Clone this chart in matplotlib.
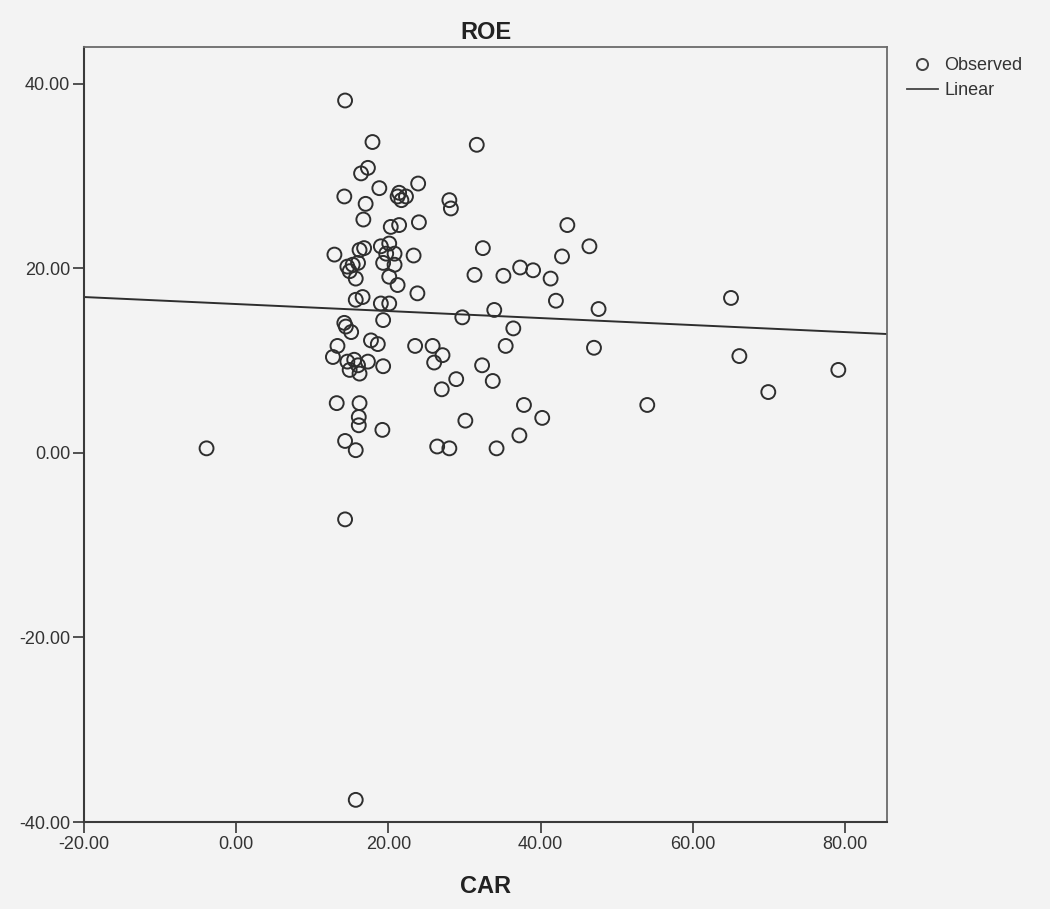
import matplotlib.pyplot as plt
from matplotlib.lines import Line2D
import numpy as np

plt.rcParams['font.family'] = ['Liberation Sans', 'DejaVu Sans']

# Scatter values (CAR on x, ROE on y)
car = [14.3, 17.9, 31.6, 16.4, 17.3, 18.8, 23.9, 14.2, 21.2, 21.7,
       22.3, 21.4, 28.0, 28.2, 17.0, 16.7, 20.3, 21.4, 24.0, 12.9,
       16.2, 16.8, 19.0, 20.1, 19.7, 20.8, 19.3, 20.8, 23.3, 32.4,
       31.3, 35.1, 14.6, 15.3, 16.0, 14.9, 15.7, 20.1, 21.2, 23.8,
       15.7, 16.6, 19.0, 20.1, 19.3, 29.7, 33.9, 14.2, 14.4, 15.1,
       17.7, 18.6, 23.5, 25.8, 27.1, 26.0, 13.3, 12.7, 14.6, 15.5,
       16.0, 14.9, 16.2, 17.3, 19.3, 32.3, 33.7, 28.9, 27.0, 13.2,
       16.2, 16.1, 16.1, 19.2, 30.1, 14.3, 15.7, 26.4, 28.0, 34.2,
       -3.9, 43.5, 46.4, 42.8, 37.3, 39.0, 41.3, 42.0, 65.0, 47.6,
       36.4, 35.4, 47.0, 66.1, 79.1, 69.9, 37.8, 54.0, 40.2, 37.2,
       14.3, 15.7]
roe = [38.2, 33.7, 33.4, 30.3, 30.9, 28.7, 29.2, 27.8, 27.8, 27.4,
       27.8, 28.2, 27.4, 26.5, 27.0, 25.3, 24.5, 24.7, 25.0, 21.5,
       22.0, 22.2, 22.4, 22.7, 21.6, 21.6, 20.6, 20.4, 21.4, 22.2,
       19.3, 19.2, 20.2, 20.4, 20.6, 19.7, 18.9, 19.1, 18.2, 17.3,
       16.6, 16.9, 16.2, 16.2, 14.4, 14.7, 15.5, 14.1, 13.7, 13.1,
       12.2, 11.8, 11.6, 11.6, 10.6, 9.8, 11.6, 10.4, 9.9, 10.1,
       9.5, 9.0, 8.6, 9.9, 9.4, 9.5, 7.8, 8.0, 6.9, 5.4,
       5.4, 3.9, 3.0, 2.5, 3.5, 1.3, 0.3, 0.7, 0.5, 0.5,
       0.5, 24.7, 22.4, 21.3, 20.1, 19.8, 18.9, 16.5, 16.8, 15.6,
       13.5, 11.6, 11.4, 10.5, 9.0, 6.6, 5.2, 5.2, 3.8, 1.9,
       -7.2, -37.6]

# Linear fit line as shown
fit_intercept = 16.14
fit_slope = -0.038

x_ticks = [-20, 0, 20, 40, 60, 80]
y_ticks = [-40, -20, 0, 20, 40]

ink = '#2e2e2e'
bg = '#f3f3f3'

fig = plt.figure(figsize=(10.5, 9.09), dpi=100, facecolor=bg)
ax = fig.add_axes([0.080, 0.0957, 0.7648, 0.8526], facecolor=bg)

ax.scatter(car, roe, s=100, facecolors='none', edgecolors=ink, linewidths=1.4, zorder=3)

xlim = (-20, 85.5)
xs = np.array(xlim)
ax.plot(xs, fit_intercept + fit_slope * xs, color=ink, lw=1.4, zorder=2)

ax.set_xlim(*xlim)
ax.set_ylim(-40, 44)
ax.set_xticks(x_ticks)
ax.set_xticklabels(['%.2f' % v for v in x_ticks])
ax.set_yticks(y_ticks)
ax.set_yticklabels(['%.2f' % v for v in y_ticks])
ax.tick_params(direction='out', length=8, width=1.3, color='#444444',
               labelsize=13, labelcolor='#333333', pad=2)

for side in ['left', 'bottom']:
    ax.spines[side].set_color('#3a3a3a')
    ax.spines[side].set_linewidth(1.5)
for side in ['top', 'right']:
    ax.spines[side].set_color('#6a6a6a')
    ax.spines[side].set_linewidth(1.3)

ax.set_title('ROE', fontsize=17, fontweight='bold', color='#222222', pad=6)
ax.set_xlabel('CAR', fontsize=17, fontweight='bold', color='#222222', labelpad=16)

handles = [Line2D([], [], ls='none', marker='o', markersize=8, markerfacecolor='none',
                  markeredgecolor='#444444', markeredgewidth=1.4),
           Line2D([], [], color='#444444', lw=1.3)]
fig.legend(handles, ['Observed', 'Linear'], loc='upper left', bbox_to_anchor=(0.857, 0.945),
           frameon=False, fontsize=13, handlelength=1.7, handletextpad=0.35,
           labelspacing=0.45, labelcolor='#333333', borderaxespad=0)

fig.savefig('out.png', dpi=100, facecolor=bg)
